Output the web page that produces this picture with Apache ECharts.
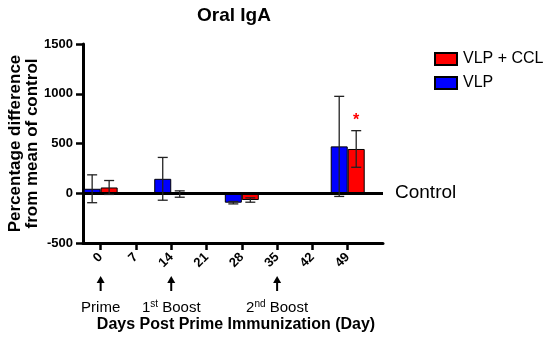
<!DOCTYPE html>
<html>
<head>
<meta charset="utf-8">
<script src="https://cdn.jsdelivr.net/npm/echarts@6/dist/echarts.min.js"></script>
<style>html,body{margin:0;padding:0;background:#fff}#c{width:550px;height:339px}</style>
</head>
<body>
<div id="c"></div>
<script>
// ---- data ----
const days = [0, 14, 28, 49];
const vlp = [45, 145, -95, 471];
const vlpErr = [140, 215, 12, 503];
const vlpCcl = [58, -8, -68, 445];
const vlpCclErr = [70, 32, 22, 184];
const vlpCclSig = ['', '', '', '*'];
const xTicks = [0, 7, 14, 21, 28, 35, 42, 49];
const eventDays = [0, 14, 35];
const eventLabels = ['Prime', '1{sup|st} Boost', '2{sup|nd} Boost'];

const FONT = '"Liberation Sans", Arial, Helvetica, sans-serif';
const BAR_W = 17;

function errSeries(name, vals, errs, sig, offset) {
  return {
    type: 'custom',
    name: name + ' err',
    z: 5,
    silent: true,
    data: days.map((d, i) => [d, vals[i], errs[i]]),
    renderItem: function (params, api) {
      const x = api.value(0), y = api.value(1), e = api.value(2);
      const s = sig[params.dataIndex] || '';
      const top = api.coord([x, y + e]);
      const bot = api.coord([x, y - e]);
      const cx = top[0] + offset;
      const cap = 5;
      const st = { stroke: '#222', lineWidth: 1.3 };
      const children = [
        { type: 'line', shape: { x1: cx, y1: top[1], x2: cx, y2: bot[1] }, style: st },
        { type: 'line', shape: { x1: cx - cap, y1: top[1], x2: cx + cap, y2: top[1] }, style: st },
        { type: 'line', shape: { x1: cx - cap, y1: bot[1], x2: cx + cap, y2: bot[1] }, style: st }
      ];
      if (s) {
        children.push({ type: 'text', style: { text: s, x: cx, y: top[1] - 2, fill: '#ff0000', font: 'bold 16px ' + FONT, align: 'center', verticalAlign: 'bottom' } });
      }
      return { type: 'group', children: children };
    }
  };
}

const chart = echarts.init(document.getElementById('c'));
chart.setOption({
  animation: false,
  backgroundColor: '#fff',
  textStyle: { fontFamily: FONT },
  title: {
    text: 'Oral IgA', left: 192, top: 1,
    textStyle: { fontSize: 19, fontWeight: 'bold', color: '#000', fontFamily: FONT }
  },
  legend: {
    orient: 'vertical', left: 429, top: 46,
    itemWidth: 22, itemHeight: 12, itemGap: 8, icon: 'rect',
    data: ['VLP + CCL', 'VLP'],
    textStyle: { fontSize: 16, color: '#000', fontFamily: FONT, padding: [0, 0, 0, 1] }
  },
  grid: { left: 83, right: 167, top: 44, bottom: 96, containLabel: false, outerBoundsMode: 'none' },
  xAxis: {
    type: 'value', min: -3.5, max: 56,
    name: 'Days Post Prime Immunization (Day)', nameLocation: 'middle', nameGap: 74, nameMoveOverlap: false,
    nameTextStyle: { fontSize: 16, fontWeight: 'bold', color: '#000', fontFamily: FONT, padding: [0, 0, 0, 6] },
    axisLine: { onZero: false, lineStyle: { color: '#000', width: 3 } },
    axisTick: { show: true, length: 7, lineStyle: { color: '#000', width: 2.5 }, customValues: xTicks },
    axisLabel: { customValues: xTicks, rotate: 45, margin: 12, fontSize: 13, fontWeight: 'bold', color: '#000', fontFamily: FONT, formatter: v => String(v) },
    splitLine: { show: false }
  },
  yAxis: {
    type: 'value', min: -500, max: 1500, interval: 500,
    name: 'Percentage difference\nfrom mean of control', nameLocation: 'middle', nameRotate: 90, nameGap: 42, nameMoveOverlap: false,
    nameTextStyle: { fontSize: 17, fontWeight: 'bold', color: '#000', fontFamily: FONT, lineHeight: 17 },
    axisLine: { onZero: false, lineStyle: { color: '#000', width: 3 } },
    axisTick: { show: true, length: 7, lineStyle: { color: '#000', width: 2.5 } },
    axisLabel: { margin: 10, fontSize: 13, fontWeight: 'bold', color: '#000', fontFamily: FONT, formatter: v => String(v) },
    splitLine: { show: false }
  },
  series: [
    {
      type: 'bar', name: 'VLP', barWidth: BAR_W, barGap: '0%',
      data: days.map((d, i) => [d, vlp[i]]),
      itemStyle: { color: '#0000ff', borderColor: '#000', borderWidth: 1 },
      markLine: {
        silent: true, symbol: 'none',
        lineStyle: { color: '#000', width: 3, type: 'solid' },
        label: { show: true, position: 'end', formatter: 'Control', fontSize: 19, color: '#000', fontFamily: FONT, distance: 12 },
        data: [{ yAxis: 0 }]
      }
    },
    {
      type: 'bar', name: 'VLP + CCL', barWidth: BAR_W, barGap: '0%',
      data: days.map((d, i) => [d, vlpCcl[i]]),
      itemStyle: { color: '#ff0000', borderColor: '#000', borderWidth: 1 }
    },
    errSeries('VLP', vlp, vlpErr, [], -BAR_W / 2),
    errSeries('VLP + CCL', vlpCcl, vlpCclErr, vlpCclSig, BAR_W / 2)
  ]
});

// arrows and event labels below the axis
const g = [];
eventDays.forEach((d, i) => {
  const x = chart.convertToPixel({ xAxisIndex: 0 }, d);
  g.push({ type: 'line', shape: { x1: x, y1: 281, x2: x, y2: 291 }, style: { stroke: '#000', lineWidth: 2 } });
  g.push({ type: 'polygon', shape: { points: [[x - 4, 283], [x, 276], [x + 4, 283]] }, style: { fill: '#000' } });
  g.push({
    type: 'text', x: x, y: 308,
    style: {
      text: eventLabels[i], align: 'center', verticalAlign: 'middle',
      font: '15px ' + FONT, fill: '#000',
      rich: { sup: { fontSize: 10, fontFamily: FONT, verticalAlign: 'top', padding: [0, 0, 7, 0] } }
    }
  });
});
chart.setOption({ graphic: g });
</script>
</body>
</html>
